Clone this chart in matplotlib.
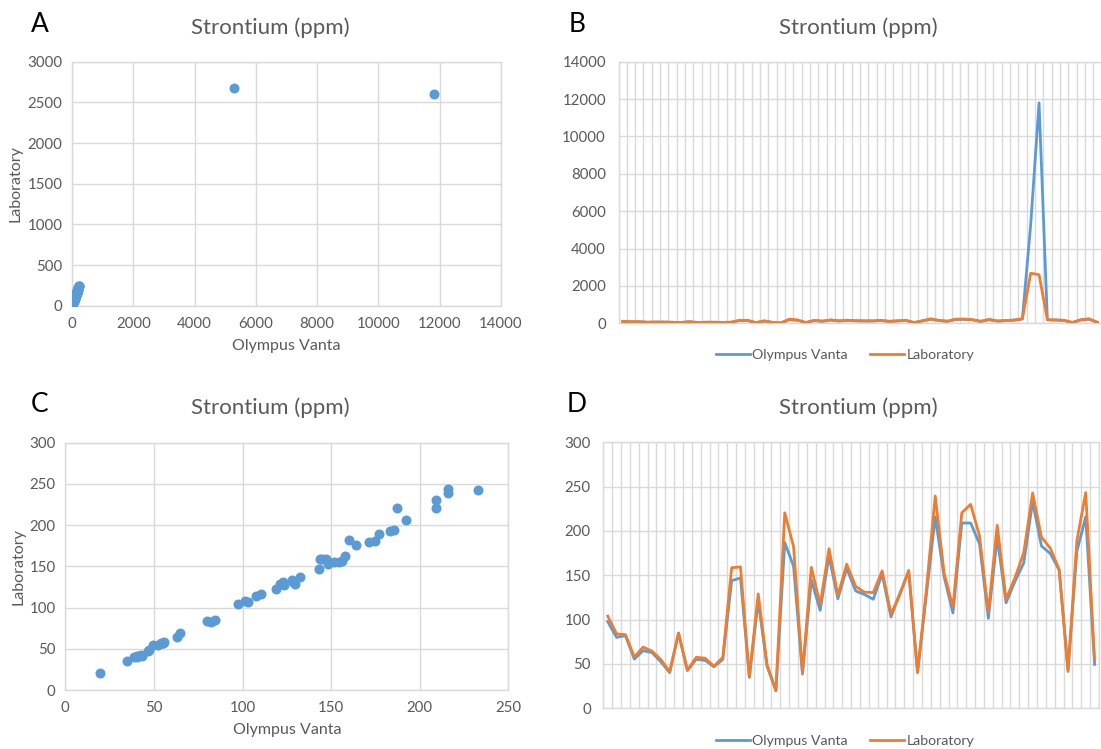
import numpy as np
import matplotlib
matplotlib.use("Agg")
import matplotlib.pyplot as plt

# Strontium (ppm): portable XRF (Olympus Vanta) vs laboratory assay, per sample
olympus = [97.7, 80, 82, 55.5, 65, 62.8, 52.5, 40.2, 84.5, 42.5,
           55.3, 54, 46.8, 55, 144, 147, 34.8, 121, 47.5, 19.6,
           187, 160, 38.6, 144.7, 110.5, 171.5, 123.5, 158, 132.4, 128.3,
           123, 151.5, 103, 129.6, 154.5, 40.3, 128, 216, 148.5, 107.5,
           209, 209, 185.5, 101.5, 192.5, 119, 143, 164, 233, 5300,
           11800, 183, 174.5, 156, 43.5, 177, 216, 49.5]
laboratory = [104, 84, 83, 58, 69, 64.5, 55, 41.3, 85, 43,
              57.5, 56.5, 47.5, 57.5, 158.5, 159.5, 35.6, 129, 49, 20.2,
              220.5, 182, 40, 159, 117, 180, 127.5, 162.5, 137.5, 131,
              130.5, 155, 106.5, 128, 155.5, 40.5, 134, 239.5, 152.5, 114,
              220.5, 230, 194.5, 108, 206.5, 123, 147, 175.5, 242.8, 2680,
              2600, 193, 180.5, 156.5, 41.5, 189, 243.3, 54]

title = "Strontium (ppm)"
x_name = "Olympus Vanta"
y_name = "Laboratory"
outlier_cut = 1000

olympus = np.array(olympus, dtype=float)
laboratory = np.array(laboratory, dtype=float)
keep = olympus < outlier_cut
oly_trim = olympus[keep]
lab_trim = laboratory[keep]

BLUE = "#5B9BD5"
ORANGE = "#ED7D31"
GRID = "#D9D9D9"
TXT = "#595959"

plt.rcParams["font.family"] = ["Lato", "DejaVu Sans"]

W, H = 1101, 749
fig = plt.figure(figsize=(W / 100, H / 100), dpi=100)
fig.patch.set_facecolor("white")


def box(l, r, t, b):
    return [l / W, (H - b) / H, (r - l) / W, (b - t) / H]


def style(ax):
    for s in ax.spines.values():
        s.set_color(GRID)
        s.set_linewidth(1.0)
    ax.tick_params(length=0, colors=TXT, labelsize=10.8)
    ax.tick_params(axis="x", pad=8)
    ax.tick_params(axis="y", pad=7)
    ax.grid(True, color=GRID, linewidth=1.0)
    ax.set_axisbelow(True)


def scatter_panel(ax, x, y, xmax, xstep, ymax, ystep):
    ax.scatter(x, y, s=52, color=BLUE, linewidths=0, zorder=3)
    ax.set_xlim(0, xmax)
    ax.set_ylim(0, ymax)
    ax.set_xticks(np.arange(0, xmax + 1, xstep))
    ax.set_yticks(np.arange(0, ymax + 1, ystep))
    style(ax)
    ax.set_xlabel(x_name, color=TXT, fontsize=11.5, labelpad=6)
    ax.set_ylabel(y_name, color=TXT, fontsize=11.5, labelpad=3)


def line_panel(ax, a, b, ymax, ystep):
    n = len(a)
    idx = np.arange(n)
    ax.plot(idx, a, color=BLUE, lw=2.0, label=x_name, zorder=3,
            solid_joinstyle="round")
    ax.plot(idx, b, color=ORANGE, lw=2.0, label=y_name, zorder=4,
            solid_joinstyle="round")
    ax.set_xlim(-0.5, n - 0.5)
    ax.set_ylim(0, ymax)
    ax.set_xticks(np.arange(n + 1) - 0.5)
    ax.set_xticklabels([])
    ax.set_yticks(np.arange(0, ymax + 1, ystep))
    style(ax)
    ax.tick_params(axis="y", pad=9)


# A: full scatter
axA = fig.add_axes(box(72, 501, 61.7, 305.7))
scatter_panel(axA, olympus, laboratory, 14000, 2000, 3000, 500)

# B: full series by sample
axB = fig.add_axes(box(618.5, 1101.5, 61.7, 323.3))
line_panel(axB, olympus, laboratory, 14000, 2000)

# C: scatter without the two outliers
axC = fig.add_axes(box(65.3, 508.3, 442.7, 690))
scatter_panel(axC, oly_trim, lab_trim, 250, 50, 300, 50)

# D: series without the two outliers
axD = fig.add_axes(box(603.3, 1099.0, 442.3, 708.3))
line_panel(axD, oly_trim, lab_trim, 300, 50)

# Titles and panel letters
for cx, cy, letter, lx in [(270, 28, "A", 40), (858, 28, "B", 577),
                           (270, 408, "C", 40), (858, 408, "D", 577)]:
    fig.text(cx / W, 1 - cy / H, title, ha="center", va="center",
             fontsize=16, color=TXT)
    fig.text(lx / W, 1 - (cy - 4) / H, letter, ha="center", va="center",
             fontsize=19, color="black")

# Legends below the line panels
for ax, cy in [(axB, 355), (axD, 741)]:
    handles, labels = ax.get_legend_handles_labels()
    fig.legend(handles, labels, loc="center", bbox_to_anchor=(845 / W, 1 - cy / H),
               ncol=2, frameon=False, fontsize=10.2, labelcolor=TXT,
               handlelength=2.4, handletextpad=0.15, columnspacing=1.6)

fig.savefig("out.png", dpi=100, facecolor="white")
